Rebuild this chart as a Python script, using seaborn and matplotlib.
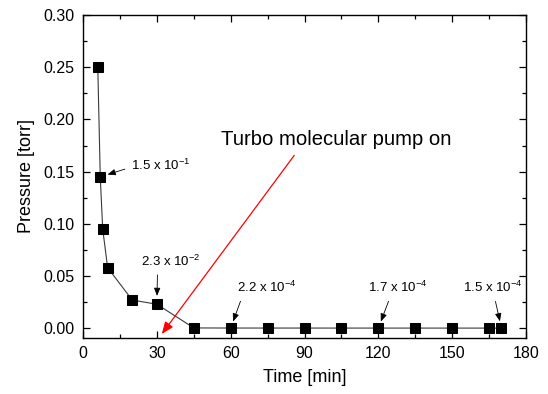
import matplotlib
matplotlib.use("Agg")
import matplotlib.pyplot as plt
import pandas as pd
import seaborn as sns
from matplotlib.ticker import MultipleLocator, AutoMinorLocator, FormatStrFormatter

# ---- data ----
time_min = [6, 7, 8, 10, 20, 30, 45, 60, 75, 90, 105, 120, 135, 150, 165, 170]
pressure_torr = [0.25, 0.145, 0.095, 0.058, 0.027, 0.023, 3.0e-4, 2.2e-4, 2.0e-4,
                 1.9e-4, 1.8e-4, 1.7e-4, 1.6e-4, 1.6e-4, 1.5e-4, 1.5e-4]

ann_index = [1, 5, 7, 11, 15]
ann_labels = [r"1.5 x 10$^{-1}$", r"2.3 x 10$^{-2}$", r"2.2 x 10$^{-4}$",
              r"1.7 x 10$^{-4}$", r"1.5 x 10$^{-4}$"]
ann_offsets = [(22, 8), (-11.5, 31), (4.3, 29), (-7.4, 29), (-27.6, 29)]
ann_relpos = [(0.0, 0.4), (0.28, 0.0), (0.1, 0.0), (0.38, 0.0), (0.52, 0.0)]
ann_shrink = [5.5, 6, 5, 5, 5]

pump_text = "Turbo molecular pump on"
pump_tip = (32.0, -0.0055)
pump_text_pos = (102.8, 0.181)

x_ticks = [0, 30, 60, 90, 120, 150, 180]

# ---- style ----
sns.set_style("ticks")
plt.rcParams["font.family"] = ["Liberation Sans", "DejaVu Sans"]
plt.rcParams["mathtext.fontset"] = "custom"
plt.rcParams["mathtext.rm"] = "Liberation Sans"
plt.rcParams["mathtext.it"] = "Liberation Sans:italic"
plt.rcParams["mathtext.bf"] = "Liberation Sans:bold"
plt.rcParams["text.color"] = "black"
plt.rcParams["axes.labelcolor"] = "black"
plt.rcParams["xtick.color"] = "black"
plt.rcParams["ytick.color"] = "black"

fig = plt.figure(figsize=(5.48, 3.94), dpi=100)
ax = fig.add_axes([0.1515, 0.143, 0.960 - 0.1515, 0.962 - 0.143])

df = pd.DataFrame({"time": time_min, "pressure": pressure_torr})
sns.lineplot(data=df, x="time", y="pressure", ax=ax, color="#3a3a3a", lw=0.8,
             marker="s", markersize=6.5, markerfacecolor="black",
             markeredgecolor="black", sort=False, estimator=None)

ax.set_xlim(0, 180)
ax.set_ylim(-0.009, 0.30)
ax.set_xticks(x_ticks)
ax.yaxis.set_major_locator(MultipleLocator(0.05))
ax.yaxis.set_major_formatter(FormatStrFormatter("%.2f"))
ax.xaxis.set_minor_locator(AutoMinorLocator(2))
ax.yaxis.set_minor_locator(AutoMinorLocator(2))
ax.tick_params(which="both", direction="in", top=True, right=True, color="black",
               labelcolor="black")
ax.tick_params(which="major", length=5, width=0.9, labelsize=11.5, pad=6)
ax.tick_params(which="minor", length=3, width=0.9)
for s in ax.spines.values():
    s.set_linewidth(1.0)
    s.set_color("black")

ax.set_xlabel("Time [min]", fontsize=13, labelpad=6, color="black")
ax.set_ylabel("Pressure [torr]", fontsize=13, labelpad=6, color="black")

arrow_style = "-|>,head_length=0.5,head_width=0.2"
for i, lab, off, rp, sh in zip(ann_index, ann_labels, ann_offsets, ann_relpos, ann_shrink):
    ax.annotate(lab, xy=(time_min[i], pressure_torr[i]), xytext=off,
                textcoords="offset points", ha="left", va="center", fontsize=9.5,
                color="black",
                arrowprops=dict(arrowstyle=arrow_style, color="black", lw=0.6,
                                shrinkA=2, shrinkB=sh, relpos=rp))

ax.annotate(pump_text, xy=pump_tip, xytext=pump_text_pos, textcoords="data",
            ha="center", va="center", fontsize=14.6, color="black",
            arrowprops=dict(arrowstyle=arrow_style, color="red", lw=0.9,
                            shrinkA=3, shrinkB=0, relpos=(0.34, 0.0)))

fig.savefig("out.png", dpi=100)
